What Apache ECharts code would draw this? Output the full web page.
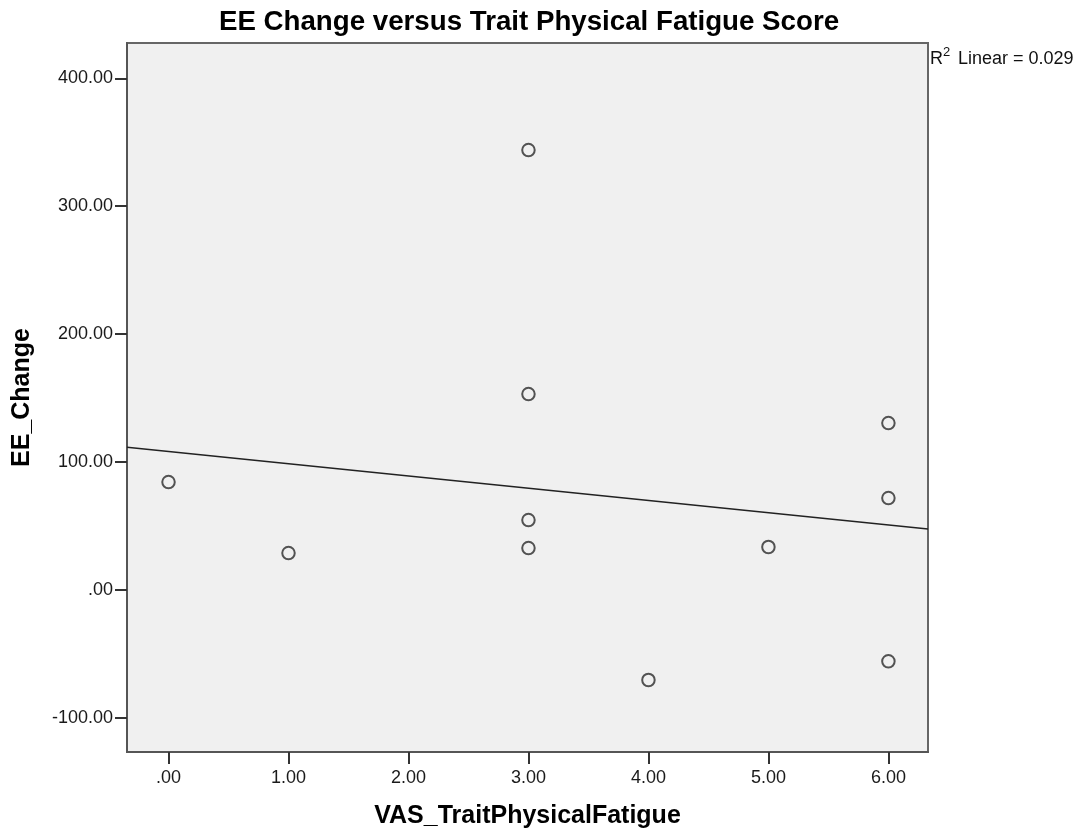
<!DOCTYPE html>
<html>
<head>
<meta charset="utf-8">
<script src="https://cdn.jsdelivr.net/npm/echarts@6/dist/echarts.min.js"></script>
<style>
html,body{margin:0;padding:0;background:#fff;}
#chart{width:1087px;height:836px;}
</style>
</head>
<body>
<div id="chart"></div>
<script>
// Data
const fatigue = [0, 1, 3, 3, 3, 3, 4, 5, 6, 6, 6];
const eeChange = [84.3, 28.8, 343.9, 153.1, 54.6, 32.7, -70.5, 33.5, 130.4, 71.8, -55.9];
const xTickValues = [0, 1, 2, 3, 4, 5, 6];
const yTickValues = [-100, 0, 100, 200, 300, 400];
const titleText = 'EE Change versus Trait Physical Fatigue Score';
const xName = 'VAS_TraitPhysicalFatigue';
const yName = 'EE_Change';
const r2Text = 'Linear = 0.029';

const X_MIN = -0.346, X_MAX = 6.33;
const Y_MIN = -126.8, Y_MAX = 427.6;

// least-squares fit line from the data
const n = fatigue.length;
const mx = fatigue.reduce((a, b) => a + b, 0) / n;
const my = eeChange.reduce((a, b) => a + b, 0) / n;
let sxy = 0, sxx = 0;
for (let i = 0; i < n; i++) { sxy += (fatigue[i] - mx) * (eeChange[i] - my); sxx += (fatigue[i] - mx) ** 2; }
const slope = sxy / sxx, intercept = my - slope * mx;
const fitLine = [[X_MIN, intercept + slope * X_MIN], [X_MAX, intercept + slope * X_MAX]];

const FONT = "'Liberation Sans', Arial, sans-serif";
function fmt(v) { return v.toFixed(2).replace(/^(-?)0\./, '$1.'); }

const chart = echarts.init(document.getElementById('chart'), null, { renderer: 'canvas' });
chart.setOption({
  animation: false,
  backgroundColor: '#ffffff',
  grid: {
    left: 127, right: 159, top: 43, bottom: 84,
    show: true, backgroundColor: '#f0f0f0', borderColor: '#666', borderWidth: 2
  },
  xAxis: {
    type: 'value', min: X_MIN, max: X_MAX,
    name: xName, nameLocation: 'middle', nameGap: 52,
    nameTextStyle: { fontFamily: FONT, fontWeight: 'bold', fontSize: 25, color: '#000' },
    axisLine: { show: true, onZero: false, lineStyle: { color: '#555', width: 2 } },
    axisTick: { show: true, length: 12, customValues: xTickValues, lineStyle: { color: '#333', width: 2 } },
    axisLabel: { customValues: xTickValues, formatter: fmt, margin: 17, fontFamily: FONT, fontSize: 18, color: '#1a1a1a' },
    splitLine: { show: false }
  },
  yAxis: {
    type: 'value', min: Y_MIN, max: Y_MAX,
    name: yName, nameLocation: 'middle', nameGap: 92, nameRotate: 90,
    nameTextStyle: { fontFamily: FONT, fontWeight: 'bold', fontSize: 25, color: '#000' },
    axisLine: { show: true, onZero: false, lineStyle: { color: '#555', width: 2 } },
    axisTick: { show: true, length: 12, customValues: yTickValues, lineStyle: { color: '#333', width: 2 } },
    axisLabel: { customValues: yTickValues, formatter: fmt, margin: 14, fontFamily: FONT, fontSize: 18, color: '#1a1a1a' },
    splitLine: { show: false }
  },
  graphic: [
    { type: 'text', x: 529, y: 22, style: { text: titleText, font: "bold 27.7px 'Liberation Sans', Arial, sans-serif", fill: '#000', align: 'center', verticalAlign: 'middle' } },
    { type: 'text', x: 930, y: 59, style: { text: 'R', font: "18px 'Liberation Sans', Arial, sans-serif", fill: '#111', align: 'left', verticalAlign: 'middle' } },
    { type: 'text', x: 943, y: 52, style: { text: '2', font: "13px 'Liberation Sans', Arial, sans-serif", fill: '#111', align: 'left', verticalAlign: 'middle' } },
    { type: 'text', x: 958, y: 59, style: { text: r2Text, font: "18px 'Liberation Sans', Arial, sans-serif", fill: '#111', align: 'left', verticalAlign: 'middle' } }
  ],
  series: [
    {
      type: 'line', data: fitLine, showSymbol: false, symbol: 'none',
      lineStyle: { color: '#222', width: 1.5 }, silent: true, z: 2
    },
    {
      type: 'scatter', data: fatigue.map((x, i) => [x, eeChange[i]]),
      symbol: 'circle', symbolSize: 12.5,
      itemStyle: { color: 'rgba(0,0,0,0)', borderColor: '#2a2a2a', borderWidth: 2 }, z: 3
    }
  ]
});
</script>
</body>
</html>
